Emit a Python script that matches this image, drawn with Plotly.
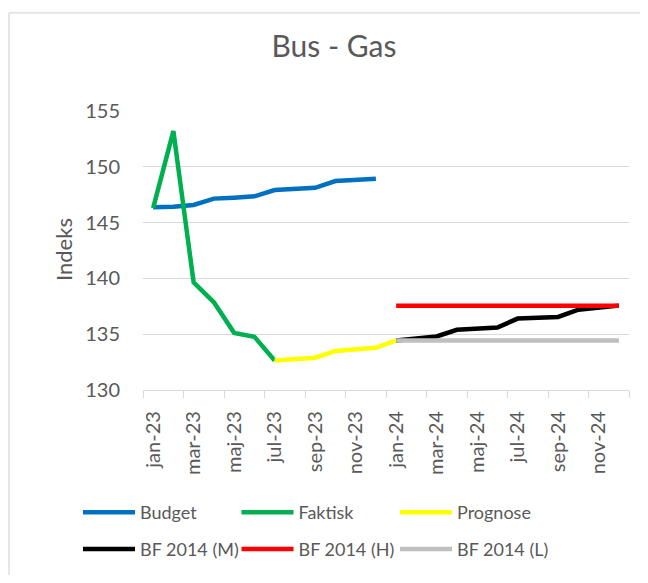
import plotly.graph_objects as go

months = ["jan-23", "feb-23", "mar-23", "apr-23", "maj-23", "jun-23",
          "jul-23", "aug-23", "sep-23", "okt-23", "nov-23", "dec-23",
          "jan-24", "feb-24", "mar-24", "apr-24", "maj-24", "jun-24",
          "jul-24", "aug-24", "sep-24", "okt-24", "nov-24", "dec-24"]

N = None
budget = [146.37, 146.42, 146.58, 147.15, 147.23, 147.35,
          147.92, 148.00, 148.12, 148.72, 148.87, 148.93,
          N, N, N, N, N, N, N, N, N, N, N, N]
faktisk = [146.3, 153.2, 139.64, 137.86, 135.12, 134.77,
           132.65, N, N, N, N, N,
           N, N, N, N, N, N, N, N, N, N, N, N]
prognose = [N, N, N, N, N, N,
            132.65, 132.74, 132.89, 133.49, 133.63, 133.78,
            134.44, N, N, N, N, N, N, N, N, N, N, N]
bf_m = [N, N, N, N, N, N, N, N, N, N, N, N,
        134.44, 134.6, 134.8, 135.4, 135.5, 135.6,
        136.4, 136.47, 136.55, 137.2, 137.35, 137.56]
bf_h = [N] * 12 + [137.56] * 12
bf_l = [N] * 12 + [134.44] * 12

series = [
    ("Budget", budget, "#0070C0", "legend"),
    ("Faktisk", faktisk, "#00B050", "legend"),
    ("Prognose", prognose, "#FFFF00", "legend"),
    ("BF 2014 (M)", bf_m, "#000000", "legend2"),
    ("BF 2014 (H)", bf_h, "#FF0000", "legend2"),
    ("BF 2014 (L)", bf_l, "#BFBFBF", "legend2"),
]

FONT = "Lato, 'Open Sans', sans-serif"
GREY = "#595959"

fig = go.Figure()
for name, vals, col, lg in series:
    fig.add_trace(go.Scatter(x=months, y=vals, name=name, mode="lines",
                             line=dict(color=col, width=4.5),
                             connectgaps=False, legend=lg))

# page body adds an 8px margin; all target pixel positions are in window px
OFF = 8
W, H = 632, 567
PL, PR, PT, PB = 143, 629, 110.7, 390.3   # plot area in window pixels
L = PL - OFF
T = PT - OFF
pw = PR - PL
ph = PB - PT
R = W - L - pw
B = H - T - ph

def px_x(p):
    return (p - PL) / pw

def px_y(p):
    return (PB - p) / ph

legend_common = dict(orientation="h", xanchor="left", yanchor="middle",
                     font=dict(family=FONT, size=18, color=GREY),
                     entrywidth=91.5, entrywidthmode="pixels",
                     itemwidth=52, bgcolor="rgba(0,0,0,0)",
                     traceorder="normal")

border = dict(color="#D9D9D9", width=1.3)

fig.update_layout(
    width=W, height=H,
    margin=dict(l=L, r=R, t=T, b=B, pad=0, autoexpand=False),
    paper_bgcolor="white", plot_bgcolor="white",
    font=dict(family=FONT, color=GREY),
    title=dict(text="Bus - Gas", x=(334 - OFF) / W, xanchor="center",
               y=1 - (46 - OFF) / H, yanchor="middle",
               font=dict(family=FONT, size=30, color=GREY)),
    showlegend=True,
    legend=dict(x=px_x(78), y=px_y(513), **legend_common),
    legend2=dict(x=px_x(78), y=px_y(550), **legend_common),
    xaxis=dict(type="category", categoryorder="array", categoryarray=months,
               range=[-0.5, 23.5], dtick=2, tickson="boundaries",
               ticks="outside", ticklen=7, tickcolor="#D9D9D9", tickwidth=1.3,
               showline=True, linecolor="#D9D9D9", linewidth=1.3,
               showgrid=False, tickangle=-90,
               tickfont=dict(family=FONT, size=20, color=GREY),
               ticklabelstandoff=12),
    yaxis=dict(range=[130, 155], dtick=5, tick0=130,
               showgrid=True, gridcolor="#D9D9D9", gridwidth=1.3,
               zeroline=False, showline=False, ticks="",
               tickfont=dict(family=FONT, size=20, color=GREY),
               ticklabelstandoff=22),
    annotations=[dict(text="Indeks", textangle=-90, x=px_x(63), y=px_y(250),
                      xref="paper", yref="paper", showarrow=False,
                      xanchor="center", yanchor="middle",
                      font=dict(family=FONT, size=22, color=GREY))],
    shapes=[
        dict(type="line", xref="paper", yref="paper",
             x0=px_x(9), x1=px_x(700), y0=px_y(12.3), y1=px_y(12.3),
             line=border, layer="below"),
        dict(type="line", xref="paper", yref="paper",
             x0=px_x(9), x1=px_x(9), y0=px_y(12.3), y1=px_y(640),
             line=border, layer="below"),
    ],
)

fig.write_html("out.html")
